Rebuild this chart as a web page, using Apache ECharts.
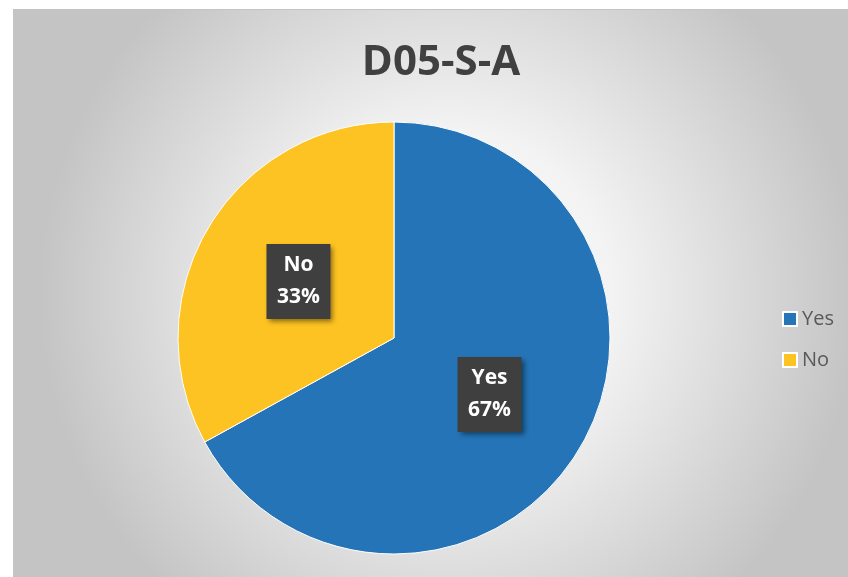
<!DOCTYPE html>
<html>
<head>
<meta charset="utf-8">
<script src="https://cdn.jsdelivr.net/npm/echarts@6/dist/echarts.min.js"></script>
<style>
  html, body { margin: 0; padding: 0; background: #ffffff; }
  #chart {
    position: absolute; left: 13px; top: 9px;
    width: 835px; height: 568px;
    border-left: 1px solid #c4c4c4; border-top: 1px solid #c4c4c4;
  }
</style>
</head>
<body>
<div id="chart"></div>
<script>
// slice names and shares
var categories = ['Yes', 'No'];
var values = [67, 33];
var colors = ['#2474b7', '#fdc322'];

var chartDom = document.getElementById('chart');
var myChart = echarts.init(chartDom);

var pieData = categories.map(function (name, i) {
  return { name: name, value: values[i], itemStyle: { color: colors[i] } };
});

var option = {
  backgroundColor: {
    type: 'radial', x: 0.52, y: 0.5, r: 0.72,
    colorStops: [
      { offset: 0, color: '#ffffff' },
      { offset: 0.4, color: '#f3f3f3' },
      { offset: 1, color: '#c4c4c4' }
    ]
  },
  title: {
    text: 'D05-S-A',
    left: 422, top: 27, textAlign: 'center',
    textStyle: { fontFamily: 'Open Sans', fontWeight: 'bold', fontSize: 42, color: '#404040' }
  },
  legend: {
    orient: 'vertical',
    left: 763, top: 294,
    itemWidth: 14, itemHeight: 14, itemGap: 21,
    icon: 'rect',
    textStyle: { fontFamily: 'Open Sans', fontSize: 20, color: '#595959' },
    data: categories
  },
  series: [
    {
      type: 'pie',
      center: [380, 328],
      radius: 216,
      startAngle: 90,
      clockwise: true,
      animation: false,
      itemStyle: { borderColor: '#ffffff', borderWidth: 1 },
      label: {
        show: true,
        position: 'inside',
        formatter: '{b}\n{d}%',
        fontFamily: 'Open Sans',
        fontWeight: 'bold',
        fontSize: 21,
        lineHeight: 32,
        color: '#ffffff',
        backgroundColor: '#3f3f3f',
        padding: [6, 7, 5, 7],
        width: 50,
        align: 'center',
        shadowColor: 'rgba(0,0,0,0.45)',
        shadowBlur: 5,
        shadowOffsetX: 3,
        shadowOffsetY: 3
      },
      labelLine: { show: false },
      data: pieData
    }
  ]
};

myChart.setOption(option);
</script>
</body>
</html>
